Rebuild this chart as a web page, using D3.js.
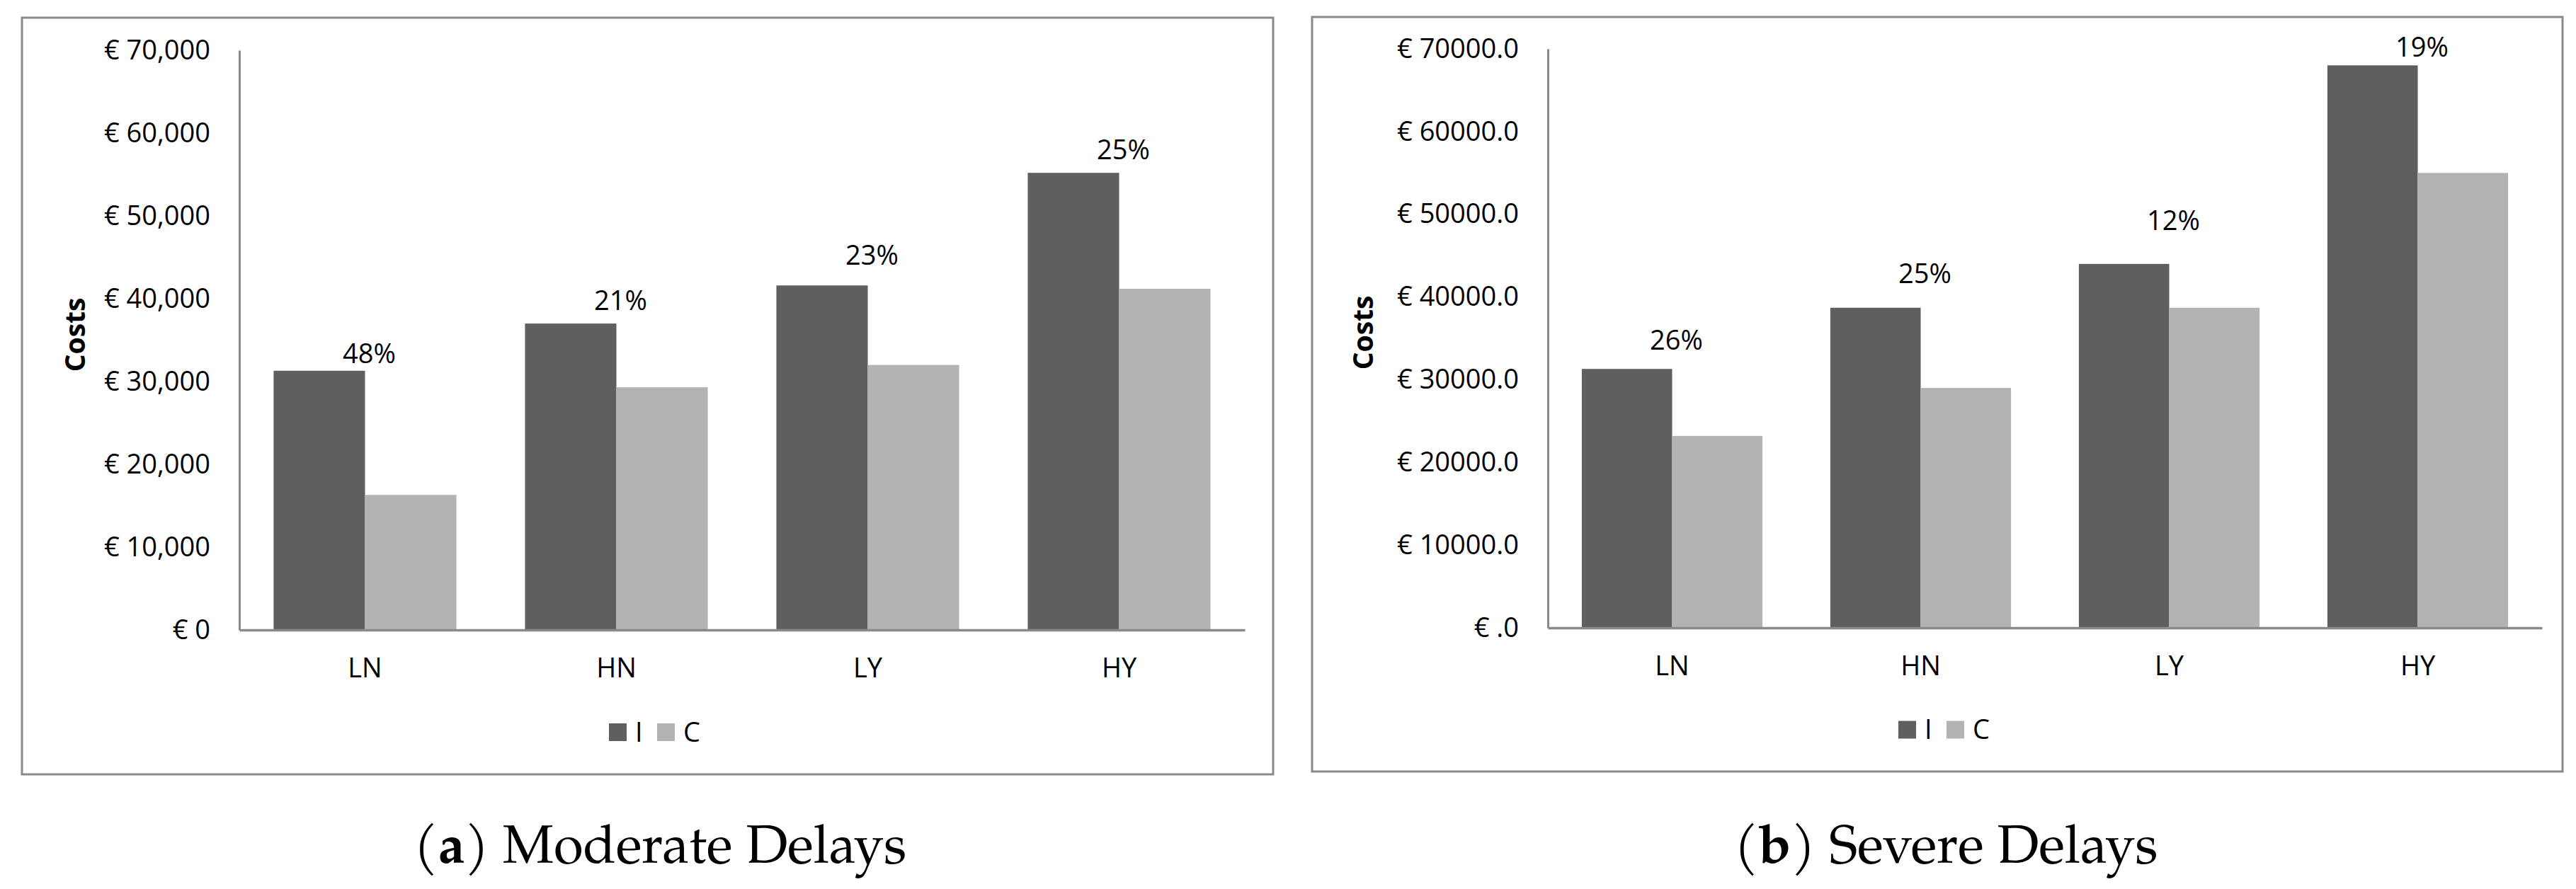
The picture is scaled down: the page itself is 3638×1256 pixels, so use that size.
<!DOCTYPE html>
<html>
<head>
<meta charset="utf-8">
<script src="https://cdn.jsdelivr.net/npm/d3@7/dist/d3.min.js"></script>
<style>
  html, body { margin: 0; padding: 0; background: #ffffff; }
  svg { display: block; }
</style>
</head>
<body>
<svg id="chart" width="3638" height="1256"></svg>
<script>
// ---------------- DATA ----------------
const categories = ["LN", "HN", "LY", "HY"];
const seriesNames = ["I", "C"];

const moderateI = [31300, 37000, 41600, 55200];
const moderateC = [16300, 29300, 32000, 41200];
const moderatePct = ["48%", "21%", "23%", "25%"];
const moderatePctAt = [33400, 39800, 45200, 58000];

const severeI = [31300, 38700, 44000, 68000];
const severeC = [23200, 29000, 38700, 55000];
const severePct = ["26%", "25%", "12%", "19%"];
const severePctAt = [34800, 42800, 49200, 70200];

const yTicks = [0, 10000, 20000, 30000, 40000, 50000, 60000, 70000];
const moderateTickLabels = ["€ 0", "€ 10,000", "€ 20,000", "€ 30,000", "€ 40,000", "€ 50,000", "€ 60,000", "€ 70,000"];
const severeTickLabels = ["€ .0", "€ 10000.0", "€ 20000.0", "€ 30000.0", "€ 40000.0", "€ 50000.0", "€ 60000.0", "€ 70000.0"];

const captionLetters = ["a", "b"];
const captionTexts = [" Moderate Delays", " Severe Delays"];
const yTitle = "Costs";

// ---------------- STYLE ----------------
const colors = { I: "#5f5f5f", C: "#b3b3b3" };
const axisColor = "#8a8a8a";
const font = "'Open Sans', 'Noto Sans', sans-serif";
const fs = 38;

const svg = d3.select("#chart");

function drawPanel(p) {
  const g = svg.append("g");

  // outer border
  g.append("rect")
    .attr("x", p.box[0]).attr("y", p.box[1])
    .attr("width", p.box[2] - p.box[0]).attr("height", p.box[3] - p.box[1])
    .attr("fill", "none").attr("stroke", axisColor).attr("stroke-width", 3);

  const x = d3.scaleBand().domain(categories).range(p.xRange)
    .paddingInner(0.273).paddingOuter(0.1365);
  const x1 = d3.scaleBand().domain(seriesNames).range([0, x.bandwidth()]);
  const y = d3.scaleLinear().domain([0, 70000]).range(p.yRange);

  const rows = categories.map((c, i) => ({ cat: c, I: p.I[i], C: p.C[i], pct: p.pct[i], pctAt: p.pctAt[i] }));

  // bars
  const grp = g.selectAll("g.cat").data(rows).join("g")
    .attr("transform", d => `translate(${x(d.cat)},0)`);
  grp.selectAll("rect").data(d => seriesNames.map(s => ({ s, v: d[s] }))).join("rect")
    .attr("x", d => x1(d.s))
    .attr("width", x1.bandwidth())
    .attr("y", d => y(d.v))
    .attr("height", d => y(0) - y(d.v))
    .attr("fill", d => colors[d.s]);

  // y axis
  const yAxis = d3.axisLeft(y).tickValues(yTicks)
    .tickFormat((d, i) => p.tickLabels[i]).tickSize(0).tickPadding(41);
  const ya = g.append("g").attr("transform", `translate(${p.xRange[0]},0)`).call(yAxis);
  ya.select(".domain").attr("stroke", axisColor).attr("stroke-width", 3);
  ya.selectAll("text").attr("font-family", font).attr("font-size", fs).attr("fill", "#000");

  // x axis
  const xAxis = d3.axisBottom(x).tickSize(0).tickPadding(40);
  const xa = g.append("g").attr("transform", `translate(0,${p.yRange[0]})`).call(xAxis);
  xa.select(".domain").attr("stroke", axisColor).attr("stroke-width", 3.5);
  xa.selectAll("text").attr("font-family", font).attr("font-size", fs).attr("fill", "#000");

  // percentage labels
  g.selectAll("text.pct").data(rows).join("text")
    .attr("class", "pct")
    .attr("x", d => x(d.cat) + x.bandwidth() / 2 + 6)
    .attr("y", d => y(d.pctAt))
    .attr("dy", "0.35em")
    .attr("text-anchor", "middle")
    .attr("font-family", font).attr("font-size", fs).attr("fill", "#000")
    .text(d => d.pct);

  // y title
  g.append("text")
    .attr("transform", `translate(${p.titleX},${p.titleY}) rotate(-90)`)
    .attr("text-anchor", "middle").attr("dy", "0.35em")
    .attr("font-family", font).attr("font-size", 39).attr("font-weight", "bold").attr("fill", "#000")
    .text(yTitle);

  // legend
  const lg = g.append("g").attr("transform", `translate(${p.legend[0]},${p.legend[1]})`);
  const offsets = [0, 68];
  seriesNames.forEach((s, i) => {
    lg.append("rect").attr("x", offsets[i]).attr("y", -12.5).attr("width", 25).attr("height", 25).attr("fill", colors[s]);
    lg.append("text").attr("x", offsets[i] + 37).attr("y", 0).attr("dy", "0.35em")
      .attr("font-family", font).attr("font-size", fs).attr("fill", "#000").text(s);
  });

  // caption
  const cap = svg.append("text")
    .attr("x", p.caption[0]).attr("y", p.caption[1])
    .attr("text-anchor", "middle")
    .attr("font-family", "'TeX Gyre Pagella', 'Palatino Linotype', Palatino, 'Liberation Serif', serif")
    .attr("font-size", 76).attr("fill", "#000");
  cap.append("tspan").text("(");
  cap.append("tspan").attr("font-weight", "bold").text(p.letter);
  cap.append("tspan").text(")" + p.capText);
}

drawPanel({
  box: [31, 25, 1798, 1094],
  xRange: [338, 1758], yRange: [890, 71],
  I: moderateI, C: moderateC, pct: moderatePct, pctAt: moderatePctAt,
  tickLabels: moderateTickLabels,
  titleX: 106, titleY: 473,
  legend: [860, 1034.5],
  caption: [932, 1219], letter: captionLetters[0], capText: captionTexts[0]
});

drawPanel({
  box: [1853, 24, 3619, 1090],
  xRange: [2186, 3590], yRange: [887, 69],
  I: severeI, C: severeC, pct: severePct, pctAt: severePctAt,
  tickLabels: severeTickLabels,
  titleX: 1925, titleY: 470,
  legend: [2681, 1031],
  caption: [2748, 1219], letter: captionLetters[1], capText: captionTexts[1]
});
</script>
</body>
</html>
